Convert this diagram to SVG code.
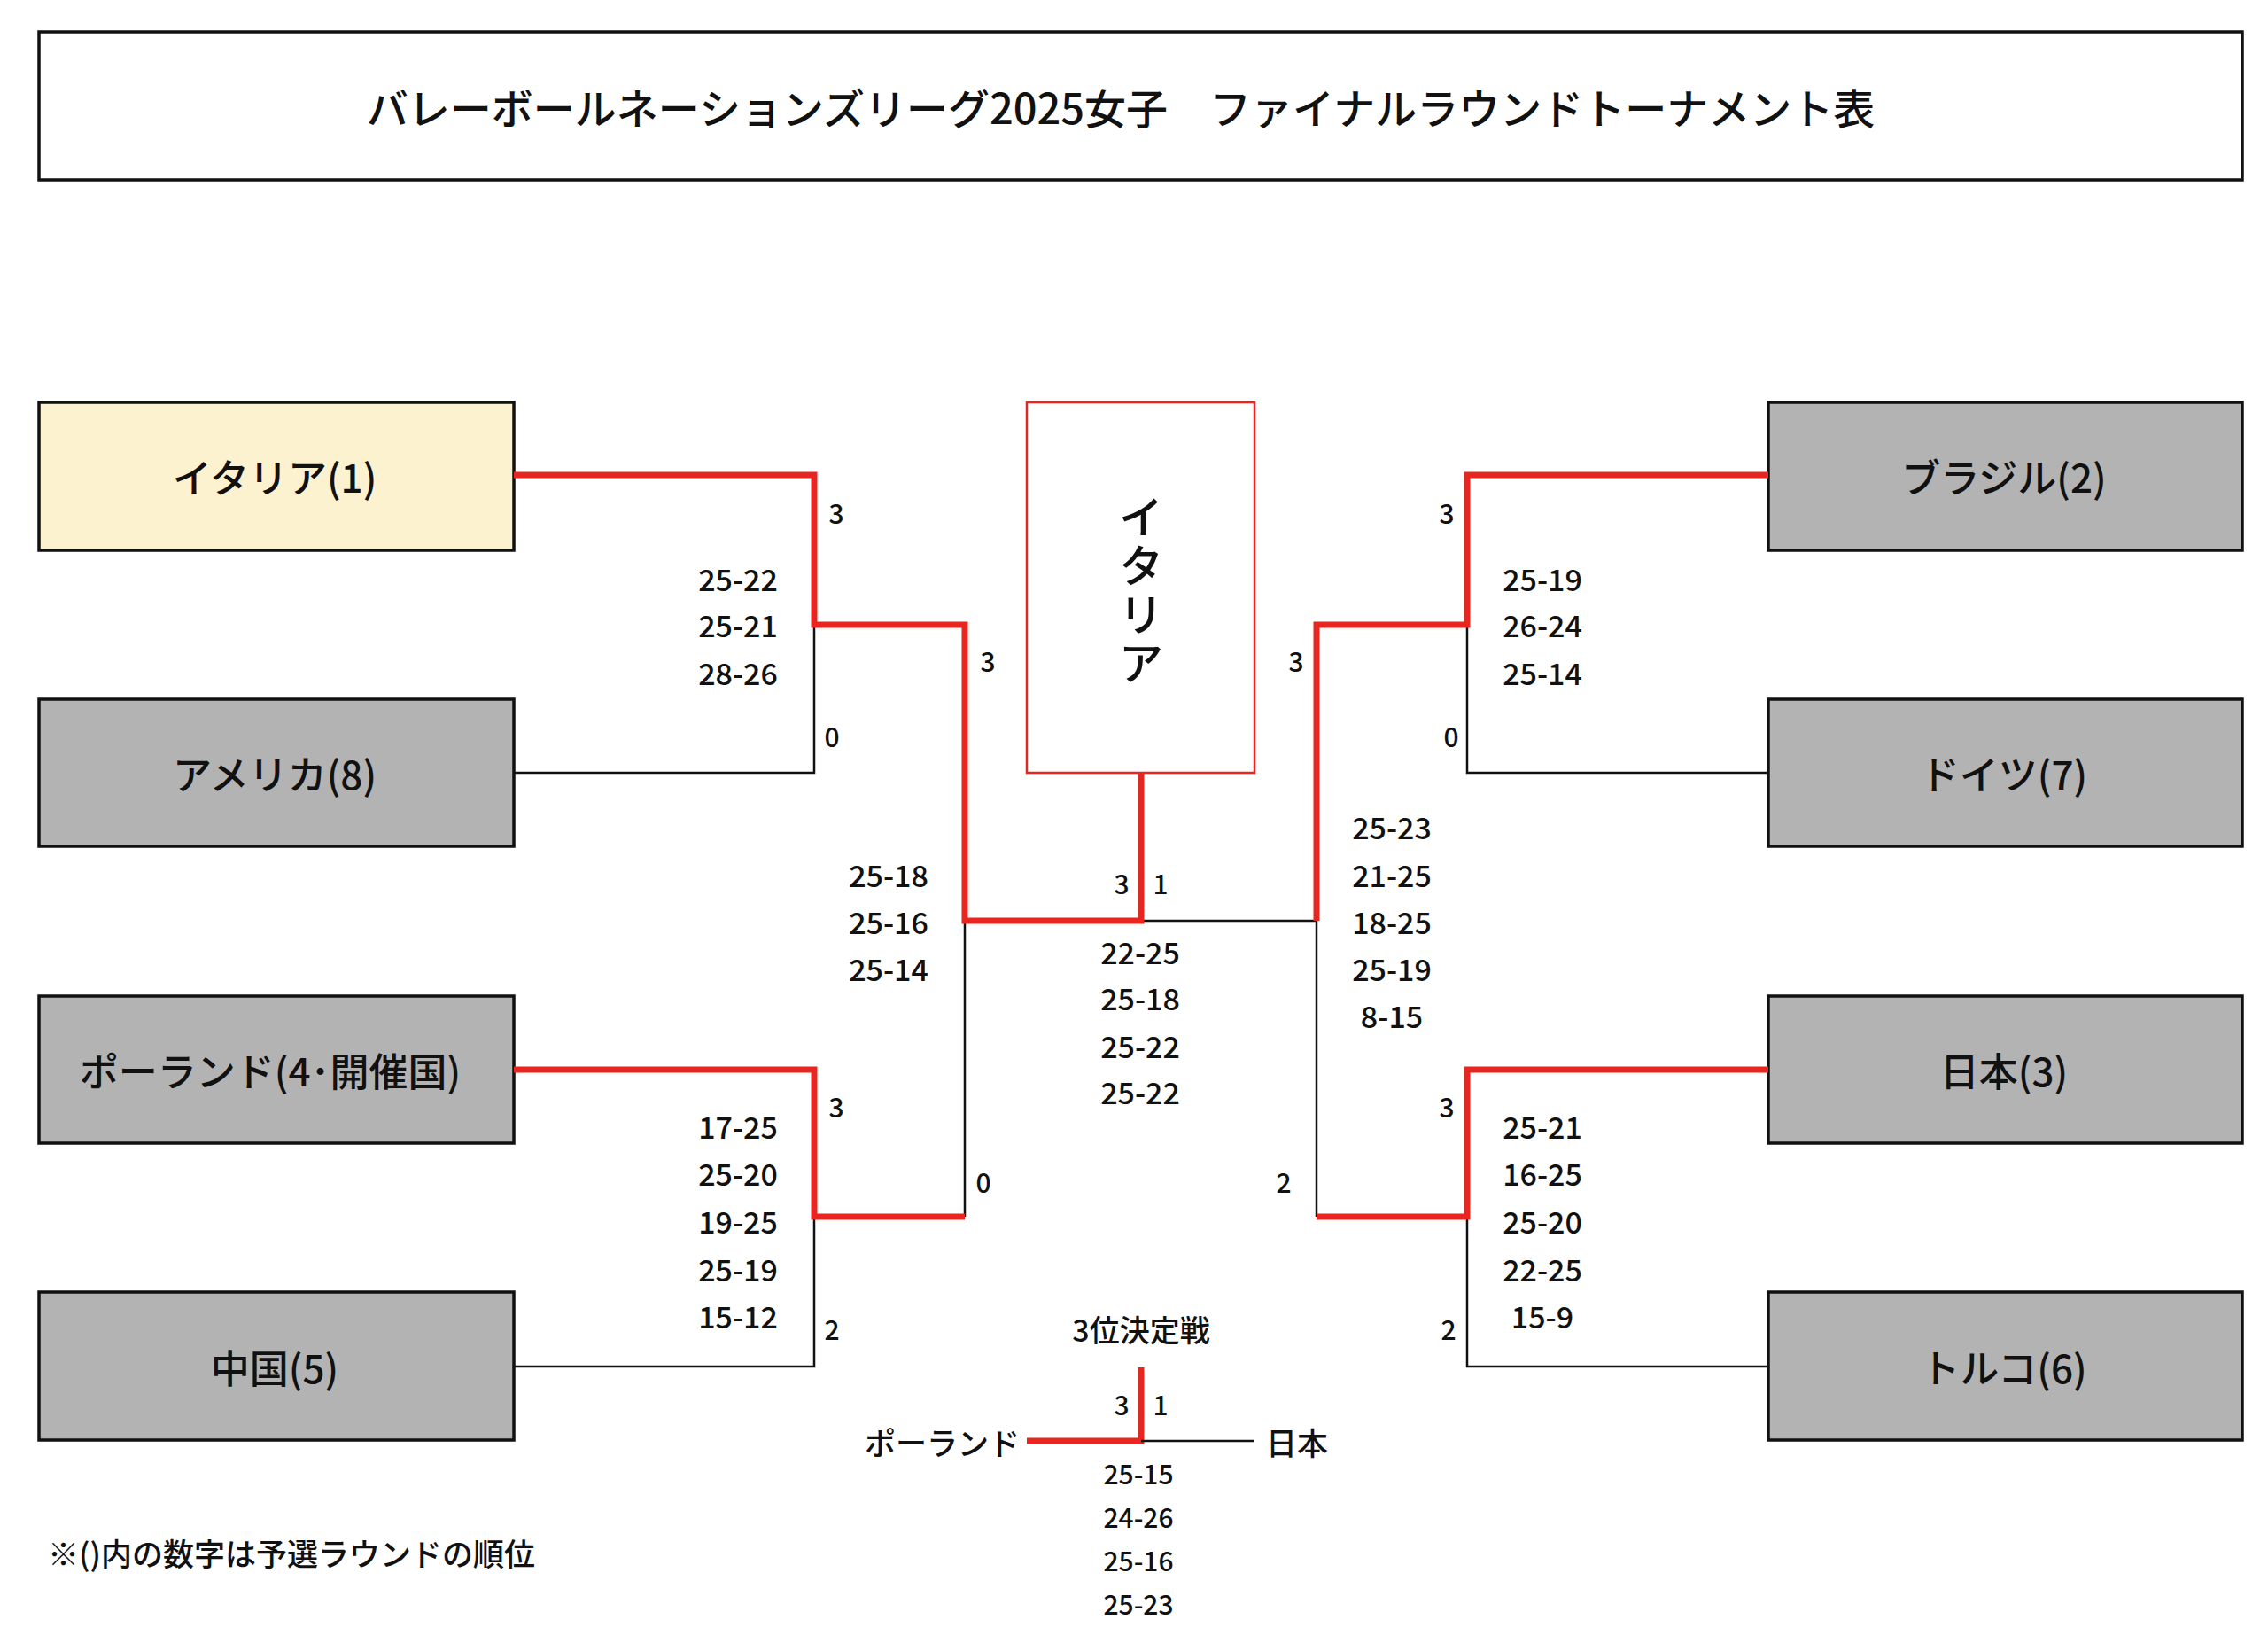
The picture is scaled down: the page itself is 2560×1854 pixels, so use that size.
<svg xmlns="http://www.w3.org/2000/svg" width="2560" height="1854" viewBox="0 0 2560 1854">
<style>
text{font-family:"Noto Sans CJK JP","Noto Sans",sans-serif;fill:#111;dominant-baseline:central;font-weight:500}
.box{stroke:#111;stroke-width:3.5}
.g{fill:#b3b3b3}
.t{font-size:44px;text-anchor:middle}
.s{font-size:34px;text-anchor:middle}
.n{font-size:30px;text-anchor:middle}
.v{font-size:50px;text-anchor:middle}
.r{fill:none;stroke:#e8251f;stroke-width:7;stroke-linejoin:miter}
.k{fill:none;stroke:#111;stroke-width:2.5}
</style>
<rect width="2560" height="1854" fill="#fff"/>
<g id="title"><rect x="44" y="36" width="2487" height="167" fill="#fff" class="box"/>
<text x="1265" y="119" font-size="47" text-anchor="middle">バレーボールネーションズリーグ2025女子　ファイナルラウンドトーナメント表</text></g>
<g id="italy"><rect x="44" y="454" width="536" height="167" fill="#fdf2cf" class="box"/><text class="t" x="310" y="537">イタリア(1)</text></g>
<g id="usa"><rect x="44" y="789" width="536" height="166" class="box g"/><text class="t" x="310" y="872">アメリカ(8)</text></g>
<g id="poland"><rect x="44" y="1124" width="536" height="166" class="box g"/><text class="t" x="305" y="1207" font-size="42">ポーランド(4･開催国)</text></g>
<g id="china"><rect x="44" y="1458" width="536" height="167" class="box g"/><text class="t" x="310" y="1542">中国(5)</text></g>
<g id="brazil"><rect x="1996" y="454" width="535" height="167" class="box g"/><text class="t" x="2262" y="537">ブラジル(2)</text></g>
<g id="germany"><rect x="1996" y="789" width="535" height="166" class="box g"/><text class="t" x="2262" y="872">ドイツ(7)</text></g>
<g id="japan"><rect x="1996" y="1124" width="535" height="166" class="box g"/><text class="t" x="2262" y="1207">日本(3)</text></g>
<g id="turkey"><rect x="1996" y="1458" width="535" height="167" class="box g"/><text class="t" x="2262" y="1542">トルコ(6)</text></g>
<g id="champion"><rect x="1159" y="454" width="257" height="418" fill="#fff" stroke="#e8251f" stroke-width="2.5"/>
<text class="v" x="1288" y="580">イ</text><text class="v" x="1288" y="635">タ</text><text class="v" x="1288" y="690">リ</text><text class="v" x="1288" y="745">ア</text></g>
<g id="connectors">
<path class="k" d="M580 872H919V705M580 1542H919V1373M1089 1039V1373M1288 1039H1486V1373M1996 872H1656V705M1996 1542H1656V1373"/>
<path class="r" d="M580 536H919V705H1089V1039H1288V872"/>
<path class="r" d="M580 1207H919V1373H1089"/>
<path class="r" d="M1996 536H1656V705H1486V1039"/>
<path class="r" d="M1996 1207H1656V1373H1486"/>
<path class="r" d="M1288 1543V1626H1159"/>
<path class="k" d="M1288 1626H1416"/>
</g>
<g id="labels">
<text class="n" x="944" y="578">3</text><text class="n" x="939" y="830">0</text>
<text class="s" x="833" y="652">25-22</text><text class="s" x="833" y="704">25-21</text><text class="s" x="833" y="758">28-26</text>
<text class="n" x="1115" y="745">3</text><text class="n" x="1110" y="1333">0</text>
<text class="s" x="1003" y="986">25-18</text><text class="s" x="1003" y="1039">25-16</text><text class="s" x="1003" y="1092">25-14</text>
<text class="n" x="944" y="1248">3</text><text class="n" x="939" y="1499">2</text>
<text class="s" x="833" y="1270">17-25</text><text class="s" x="833" y="1323">25-20</text><text class="s" x="833" y="1377">19-25</text><text class="s" x="833" y="1431">25-19</text><text class="s" x="833" y="1484">15-12</text>
<text class="n" x="1266" y="996">3</text><text class="n" x="1310" y="996">1</text>
<text class="s" x="1287" y="1073">22-25</text><text class="s" x="1287" y="1125">25-18</text><text class="s" x="1287" y="1179">25-22</text><text class="s" x="1287" y="1231">25-22</text>
<text class="n" x="1633" y="578">3</text><text class="n" x="1638" y="830">0</text>
<text class="s" x="1741" y="652">25-19</text><text class="s" x="1741" y="704">26-24</text><text class="s" x="1741" y="758">25-14</text>
<text class="n" x="1463" y="745">3</text><text class="n" x="1449" y="1333">2</text>
<text class="s" x="1571" y="932">25-23</text><text class="s" x="1571" y="986">21-25</text><text class="s" x="1571" y="1039">18-25</text><text class="s" x="1571" y="1092">25-19</text><text class="s" x="1571" y="1145">8-15</text>
<text class="n" x="1633" y="1248">3</text><text class="n" x="1635" y="1499">2</text>
<text class="s" x="1741" y="1270">25-21</text><text class="s" x="1741" y="1323">16-25</text><text class="s" x="1741" y="1377">25-20</text><text class="s" x="1741" y="1431">22-25</text><text class="s" x="1741" y="1484">15-9</text>
<text class="s" x="1288" y="1499">3位決定戦</text>
<text class="n" x="1266" y="1584">3</text><text class="n" x="1310" y="1584">1</text>
<text x="1151" y="1626" font-size="35" text-anchor="end">ポーランド</text>
<text x="1429" y="1626" font-size="35">日本</text>
<text class="n" x="1285" y="1662">25-15</text><text class="n" x="1285" y="1711">24-26</text><text class="n" x="1285" y="1760">25-16</text><text class="n" x="1285" y="1809">25-23</text>
<text x="54" y="1751" font-size="35">※()内の数字は予選ラウンドの順位</text>
</g>
</svg>
